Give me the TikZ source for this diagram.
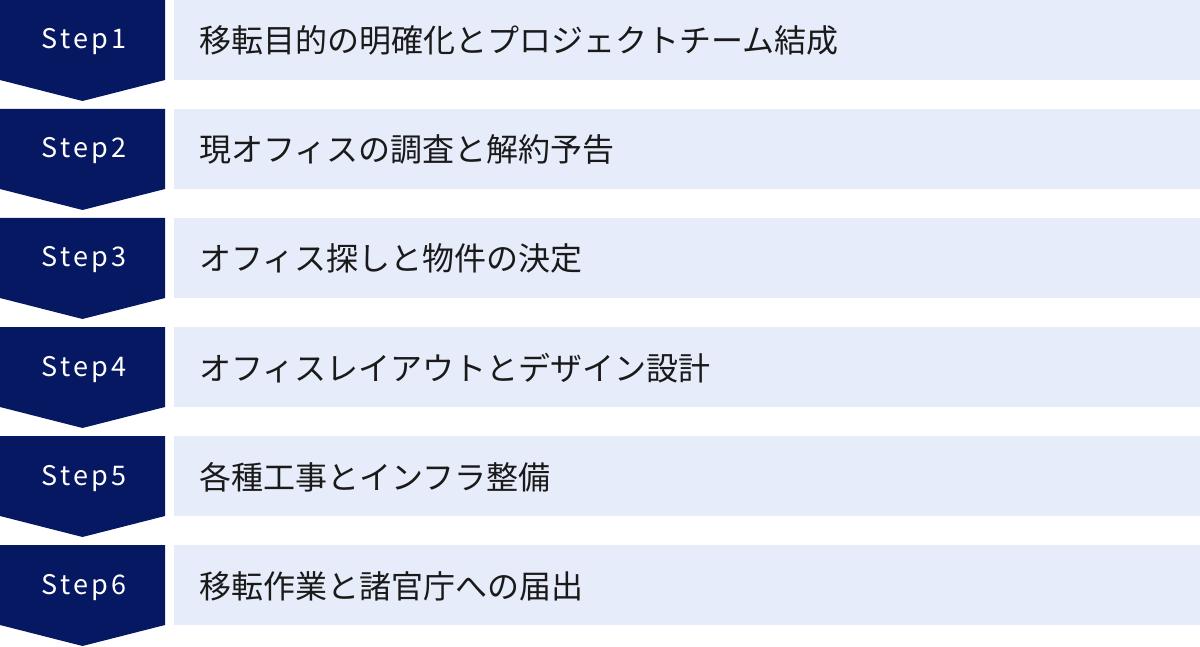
\documentclass[tikz,border=0pt]{standalone}
\usepackage{fontspec}
\setmainfont{Noto Sans CJK JP}
\newfontfamily\jp{Noto Sans CJK JP}
\newfontfamily\steplat[LetterSpace=12]{Noto Sans CJK JP}
\definecolor{navy}{HTML}{061861}
\definecolor{pale}{HTML}{E6ECF9}
\definecolor{ink}{HTML}{1A1A1A}
\tikzset{
  x=1pt,y=-1pt,
  chev/.style={fill=navy},
  band/.style={fill=pale},
  steplabel/.style={text=white,font=\steplat\fontsize{27}{32}\selectfont,inner sep=0pt,anchor=base},
  tasklabel/.style={text=ink,font=\jp\fontsize{32}{36}\selectfont,inner sep=0pt,anchor=base west}
}
\begin{document}
\begin{tikzpicture}
\useasboundingbox (0,0) rectangle (1200,647);
\foreach \i/\t in {1/移転目的の明確化とプロジェクトチーム結成,
                   2/現オフィスの調査と解約予告,
                   3/オフィス探しと物件の決定,
                   4/オフィスレイアウトとデザイン設計,
                   5/各種工事とインフラ整備,
                   6/移転作業と諸官庁への届出}{
  \pgfmathsetmacro{\top}{(\i-1)*109}
  \fill[chev] (0,\top) -- (165,\top) -- (165,\top+80) -- (82.5,\top+101) -- (0,\top+80) -- cycle;
  \fill[band] (174,\top) rectangle (1200,\top+80);
  \node[steplabel] (s\i) at (84,\top+49) {Step\i};
  \node[tasklabel] (t\i) at (199,\top+53) {\t};
}
\end{tikzpicture}
\end{document}
